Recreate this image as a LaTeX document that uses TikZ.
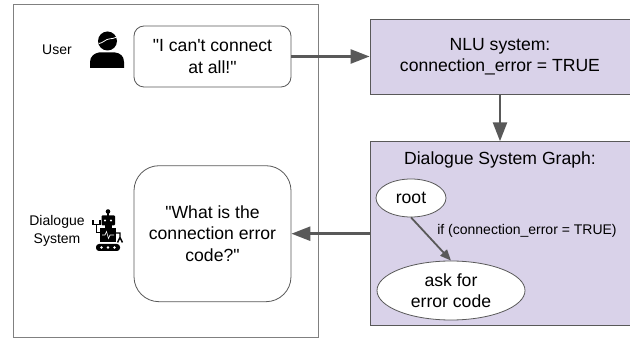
\documentclass[tikz,border=0pt]{standalone}
\usepackage{fontspec}
\setmainfont{Liberation Sans}[Ligatures=TeXOff]
\usetikzlibrary{arrows.meta,shapes.geometric}
\definecolor{linegray}{HTML}{595959}
\definecolor{boxpurple}{HTML}{D9D2E9}
\tikzset{every node/.style={align=center, inner sep=0pt, font=\fontsize{17.6}{21.5}\selectfont},
  small/.style={font=\fontsize{14}{17.5}\selectfont},
  bubble/.style={draw=linegray, fill=white, line width=0.8pt, minimum width=157pt},
  sysbox/.style={draw=linegray, fill=boxpurple, line width=0.8pt, minimum width=260pt},
  state/.style={ellipse, draw=linegray, fill=white, line width=0.8pt},
  flow/.style={draw=linegray, line width=2.5pt, -{Triangle[length=19pt,width=14pt]}}}

\begin{document}
\begin{tikzpicture}[x=1pt,y=-1pt]
  \useasboundingbox (0,0) rectangle (630,339);
  \node[draw=gray, line width=1pt, minimum width=305.5pt, minimum height=333pt] (frame) at (166.2,171) {};

  \node[small] (user) at (57,50) {User};
  \node[small] (system) at (57,231) {Dialogue\\System};
  \node[bubble, rounded corners=10pt, minimum height=61pt] (said) at (212.5,56.5) {"I can't connect\\at all!"};
  \node[bubble, rounded corners=25pt, minimum height=136pt] (asked) at (212.5,233.7) {"What is the\\connection error\\code?"};

  \node[sysbox, minimum height=75pt] (nlu) at (500,56.5) {NLU system:\\connection\_error = TRUE};
  \node[sysbox, minimum height=184pt] (graph) at (500,233.7) {};
  \node (title) at (500,160) {Dialogue System Graph:};
  \node[state, minimum width=70pt, minimum height=38pt] (root) at (411,198) {root};
  \node[state, minimum width=148pt, minimum height=59pt] (ask) at (451,290.5) {ask for\\error code};
  \node[small] (cond) at (527,231) {if (connection\_error = TRUE)};

  \draw[flow] (said) -- (nlu);
  \draw[flow] (nlu) -- (graph);
  \draw[flow] (graph.west) -- (asked.east);
  \draw[flow, line width=1.8pt, -{Triangle[length=11pt,width=9pt]}] (root.south) -- (ask.north);

  % user icon
  \fill (107.5,41) circle (9.5);
  \fill (90,68) -- (90,62) .. controls (90,56) and (95,53) .. (99,52.5) -- (115,52.5) .. controls (120,53) and (124,56) .. (124,62) -- (124,68) -- cycle;
  \draw[white, line width=0.8pt] (99,43.5) .. controls (103,43) and (106,39) .. (109,39) .. controls (112,39) and (114,38) .. (117,37);

  % robot icon
  \fill (108,211.5) circle (2.3);
  \fill (107.2,212) rectangle (108.8,216);
  \fill[rounded corners=1pt] (101.5,215.5) rectangle (115,225.5);
  \fill[white] (105,220.5) circle (1.1) (111,220.5) circle (1.1);
  \fill (105,225) rectangle (112,228.5);
  \fill (100,228) rectangle (116,242.5);
  \fill[rounded corners=3pt] (96,244) rectangle (120,251);
  \fill[white] (101.5,247.5) circle (1.4) (108,247.5) circle (1.4) (114.5,247.5) circle (1.4);
  \draw[white, line width=0.6pt] (102,235) -- (105,235) -- (106.5,231.5) -- (108.5,238.5) -- (110,235) -- (114,235);
  \draw[line width=1.4pt] (100,232.5) -- (96.5,232.5) -- (96.5,225) (93,220.5) -- (93,224.5) -- (100,224.5) -- (100,220.5);
  \draw[line width=1.4pt] (116,233) -- (120,233) -- (120,238) (117.5,242.5) -- (120,237.5) -- (122.5,242.5);
\end{tikzpicture}
\end{document}
